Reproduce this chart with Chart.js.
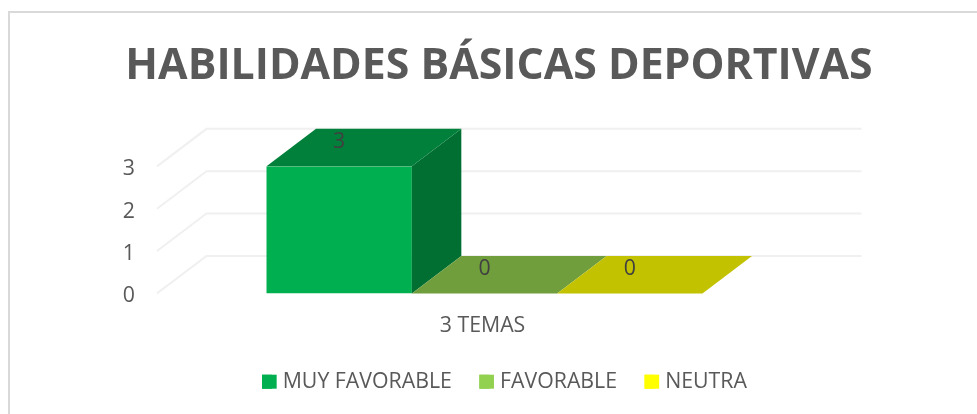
<!DOCTYPE html>
<html><head><meta charset="utf-8">
<style>html,body{margin:0;padding:0;background:#fff}#w{position:absolute;left:0;top:0;width:977px;height:414px}</style>
<script src="https://cdn.jsdelivr.net/npm/chart.js@4"></script></head>
<body><div id="w"><canvas id="c" width="977" height="414"></canvas></div>
<script>
const titleText = "HABILIDADES BÁSICAS DEPORTIVAS";
const categories = ["3 TEMAS"];
const seriesNames = ["MUY FAVORABLE", "FAVORABLE", "NEUTRA"];
const muyFavorable = [3];
const favorable = [0];
const neutra = [0];
const legendColors = ["#00B050", "#92D050", "#FFFF00"];
const topColors = ["#00803A", "#709E3C", "#C2C200"];
const sideColors = ["#006F31", "#5F8A33", "#A8A800"];
const depthX = 49.5, depthY = 37.5;

const frame3d = {
  id: "frame3d",
  afterLayout(chart) {
    const lg = chart.legend;
    lg.left += 5.5; lg.right += 5.5; lg.top -= 11.65; lg.bottom -= 11.65;
  },
  beforeDraw(chart) {
    const c = chart.ctx; c.save();
    c.strokeStyle = "#D9D9D9"; c.lineWidth = 2;
    c.beginPath(); c.moveTo(9, 414); c.lineTo(9, 12); c.lineTo(977, 12); c.stroke();
    c.restore();
  },
  beforeDatasetsDraw(chart) {
    const c = chart.ctx, y = chart.scales.y, a = chart.chartArea;
    c.save(); c.strokeStyle = "#F0F0F0"; c.lineWidth = 2;
    y.ticks.forEach(t => {
      const p = y.getPixelForValue(t.value);
      c.beginPath(); c.moveTo(a.left, p); c.lineTo(a.left + depthX, p - depthY);
      c.lineTo(a.right + depthX, p - depthY); c.stroke();
    });
    c.restore();
  },
  afterDatasetsDraw(chart) {
    const c = chart.ctx; c.save();
    chart.data.datasets.forEach((ds, i) => {
      chart.getDatasetMeta(i).data.forEach(b => {
        const l = b.x - b.width / 2, r = b.x + b.width / 2, t = b.y, bt = b.base;
        if (bt - t > 0.5) {
          c.fillStyle = sideColors[i]; c.beginPath();
          c.moveTo(r, t); c.lineTo(r + depthX, t - depthY); c.lineTo(r + depthX, bt - depthY); c.lineTo(r, bt); c.closePath(); c.fill();
        }
        c.fillStyle = topColors[i]; c.beginPath();
        c.moveTo(l, t); c.lineTo(l + depthX, t - depthY); c.lineTo(r + depthX, t - depthY); c.lineTo(r, t); c.closePath(); c.fill();
      });
    });
    c.font = '21.3px "Open Sans"'; c.fillStyle = "#404040"; c.textAlign = "center"; c.textBaseline = "middle";
    chart.data.datasets.forEach((ds, i) => {
      chart.getDatasetMeta(i).data.forEach((b, j) => c.fillText(String(ds.data[j]), b.x, b.y - 24));
    });
    c.restore();
  },
  afterDraw(chart) {
    const c = chart.ctx; c.save();
    chart.legend.legendHitBoxes.forEach((hb, i) => {
      c.fillStyle = legendColors[i];
      c.fillRect(hb.left, hb.top + (hb.height - 14) / 2, 14.6, 14);
    });
    c.restore();
  }
};

new Chart(document.getElementById("c"), {
  type: "bar",
  data: {
    labels: categories,
    datasets: [muyFavorable, favorable, neutra].map((d, i) => ({
      label: seriesNames[i], data: d, backgroundColor: legendColors[i],
      categoryPercentage: 0.6656, barPercentage: 1
    }))
  },
  plugins: [frame3d],
  options: {
    responsive: false, animation: false,
    layout: { padding: { left: 21, right: 0, top: 0, bottom: 0 } },
    plugins: {
      tooltip: { enabled: false },
      title: { display: true, text: titleText, color: "#595959",
        font: { family: '"Open Sans"', size: 42.8, weight: "bold" },
        padding: { top: 41, bottom: 74 } },
      legend: { position: "bottom",
        labels: { boxWidth: 10, boxHeight: 14, padding: 27.5, color: "#595959",
          font: { family: '"Open Sans"', size: 21.3 } } }
    },
    scales: {
      x: { grid: { display: false }, border: { display: false },
        afterFit(s) { s.height = 61.8; },
        ticks: { color: "#595959", font: { family: '"Open Sans"', size: 21.3 }, padding: 11.5, labelOffset: -2 } },
      y: { min: 0, max: 3, grid: { display: false }, border: { display: false },
        afterFit(s) { s.width = 136; },
        ticks: { stepSize: 1, color: "#595959", padding: 14, labelOffset: 3, font: { family: '"Open Sans"', size: 21.3 } } },
      spacer: { position: "right", display: true, grid: { display: false }, border: { display: false },
        ticks: { display: false }, afterFit(s) { s.width = 165; } }
    }
  }
});
</script></body></html>
